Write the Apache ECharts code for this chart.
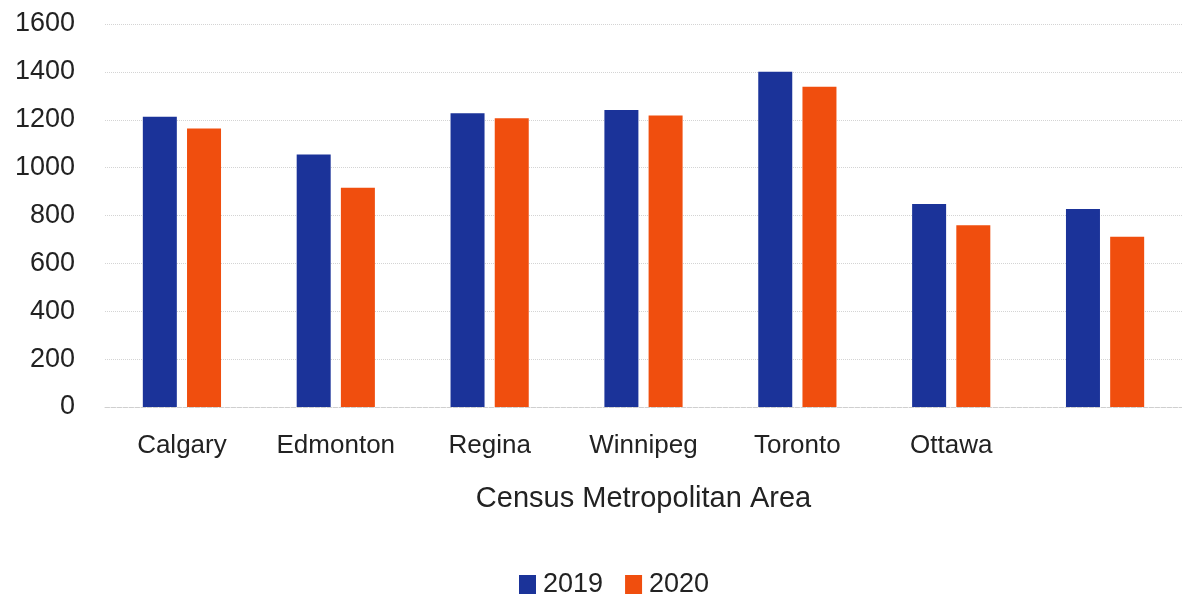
<!DOCTYPE html>
<html>
<head>
<meta charset="utf-8">
<script src="https://cdn.jsdelivr.net/npm/echarts@6/dist/echarts.min.js"></script>
<style>
  html, body { margin: 0; padding: 0; background: #ffffff; }
  #chart { width: 1182px; height: 600px; }
</style>
</head>
<body>
<div id="chart"></div>
<script>
// Census metropolitan areas (last group has no label)
const categories = ['Calgary', 'Edmonton', 'Regina', 'Winnipeg', 'Toronto', 'Ottawa', ''];
const values2019 = [1213, 1055, 1227, 1241, 1401, 848, 827];
const values2020 = [1163, 916, 1206, 1218, 1338, 759, 711];
const yTicks = { min: 0, max: 1600, interval: 200 };

const FONT = 'Liberation Sans, Arial, sans-serif';
const BLUE = '#1b3399';
const ORANGE = '#f04e0e';

const chart = echarts.init(document.getElementById('chart'), null, { renderer: 'canvas' });

chart.setOption({
  backgroundColor: '#ffffff',
  animation: false,
  textStyle: { fontFamily: FONT },
  grid: { left: 105, top: 24, width: 1085, bottom: 193, containLabel: false },
  legend: {
    left: 514,
    top: 566,
    itemWidth: 17,
    itemHeight: 19,
    itemGap: 22,
    icon: 'rect',
    textStyle: { fontFamily: FONT, fontSize: 27, color: '#222222', padding: [0, 0, 0, 2] },
    data: ['2019', '2020']
  },
  xAxis: {
    type: 'category',
    data: categories,
    name: 'Census Metropolitan Area',
    nameLocation: 'middle',
    nameGap: 77,
    nameTextStyle: { fontFamily: FONT, fontSize: 29, color: '#222222' },
    axisLine: { show: true, lineStyle: { color: '#cfcfcf', width: 1, type: 'dashed' } },
    axisTick: { show: false },
    axisLabel: { interval: 0, fontFamily: FONT, fontSize: 26, color: '#222222', margin: 26 }
  },
  yAxis: {
    type: 'value',
    min: yTicks.min,
    max: yTicks.max,
    interval: yTicks.interval,
    axisLine: { show: false },
    axisTick: { show: false },
    axisLabel: {
      fontFamily: FONT, fontSize: 27, color: '#222222', margin: 30,
      formatter: function (v) { return String(v); }
    },
    splitLine: { show: true, lineStyle: { color: '#d4d4d4', width: 1, type: 'dotted' } }
  },
  series: [
    {
      name: '2019',
      type: 'bar',
      data: values2019,
      barWidth: 34,
      barGap: '30%',
      itemStyle: { color: BLUE }
    },
    {
      name: '2020',
      type: 'bar',
      data: values2020,
      barWidth: 34,
      barGap: '30%',
      itemStyle: { color: ORANGE }
    }
  ]
});
</script>
</body>
</html>
